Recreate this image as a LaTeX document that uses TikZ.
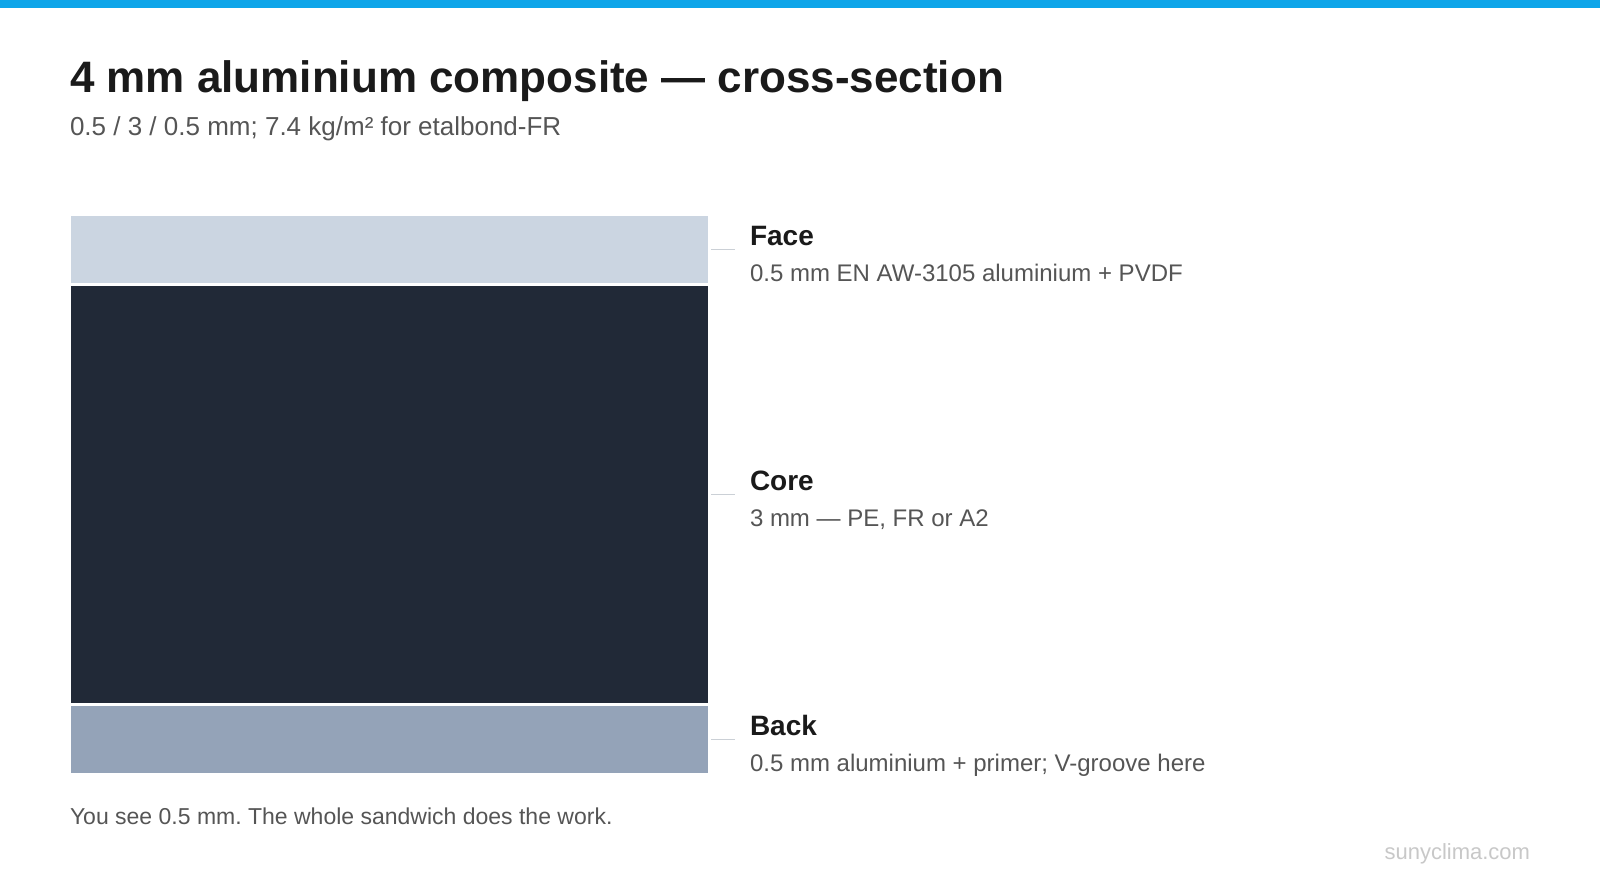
\documentclass[tikz,border=0pt]{standalone}
\usepackage{fontspec}
\setmainfont{Liberation Sans}
\frenchspacing
\definecolor{topbar}{HTML}{0EA5E9}
\definecolor{facecol}{HTML}{CBD5E1}
\definecolor{corecol}{HTML}{212937}
\definecolor{backcol}{HTML}{94A3B8}
\definecolor{inkdark}{HTML}{1A1A1A}
\definecolor{inkgray}{HTML}{555555}
\definecolor{leadcol}{HTML}{CBD0D6}
\definecolor{markcol}{HTML}{C8C8C8}
\tikzset{
  layer/.style={draw=none, inner sep=0pt, outer sep=0pt, minimum width=637pt, anchor=north west},
  txt/.style={inner sep=0pt, outer sep=0pt, anchor=base west},
  heading/.style={txt, text=inkdark, font=\fontsize{28}{32}\selectfont\bfseries},
  detail/.style={txt, text=inkgray, font=\fontsize{24}{28}\selectfont},
  leader/.style={draw=leadcol, line width=1.5pt},
}
\begin{document}
\begin{tikzpicture}[x=1pt, y=-1pt]
\useasboundingbox (0,0) rectangle (1600,895);
\fill[white] (0,0) rectangle (1600,895);
\fill[topbar] (0,0) rectangle (1600,8);

\node[txt, text=inkdark, font=\fontsize{44}{50}\selectfont\bfseries] (title) at (70,92) {4 mm aluminium composite — cross-section};
\node[txt, text=inkgray, font=\fontsize{26}{30}\selectfont] (subtitle) at (70,135) {0.5 / 3 / 0.5 mm; 7.4 kg/m² for etalbond-FR};

\node[layer, fill=facecol, minimum height=67pt] (face) at (71,216) {};
\node[layer, fill=corecol, minimum height=417pt] (core) at (71,286) {};
\node[layer, fill=backcol, minimum height=66.5pt] (back) at (71,706) {};

\coordinate (faceend) at ([xshift=27pt]face.east);
\coordinate (coreend) at ([xshift=27pt]core.east);
\coordinate (backend) at ([xshift=27pt]back.east);
\draw[leader] ([xshift=3pt]face.east) -- (faceend);
\draw[leader] ([xshift=3pt]core.east) -- (coreend);
\draw[leader] ([xshift=3pt]back.east) -- (backend);

\node[heading] (faceh) at (750,245) {Face};
\node[detail] (faced) at (750,281) {0.5 mm EN AW-3105 aluminium + PVDF};
\node[heading] (coreh) at (750,490) {Core};
\node[detail] (cored) at (750,526) {3 mm — PE, FR or A2};
\node[heading] (backh) at (750,735) {Back};
\node[detail] (backd) at (750,771) {0.5 mm aluminium + primer; V-groove here};

\node[txt, text=inkgray, font=\fontsize{23}{27}\selectfont] (foot) at (70,824) {You see 0.5 mm. The whole sandwich does the work.};
\node[inner sep=0pt, outer sep=0pt, anchor=base east, text=markcol, font=\fontsize{22}{26}\selectfont] (mark) at (1530,859) {sunyclima.com};
\end{tikzpicture}
\end{document}
